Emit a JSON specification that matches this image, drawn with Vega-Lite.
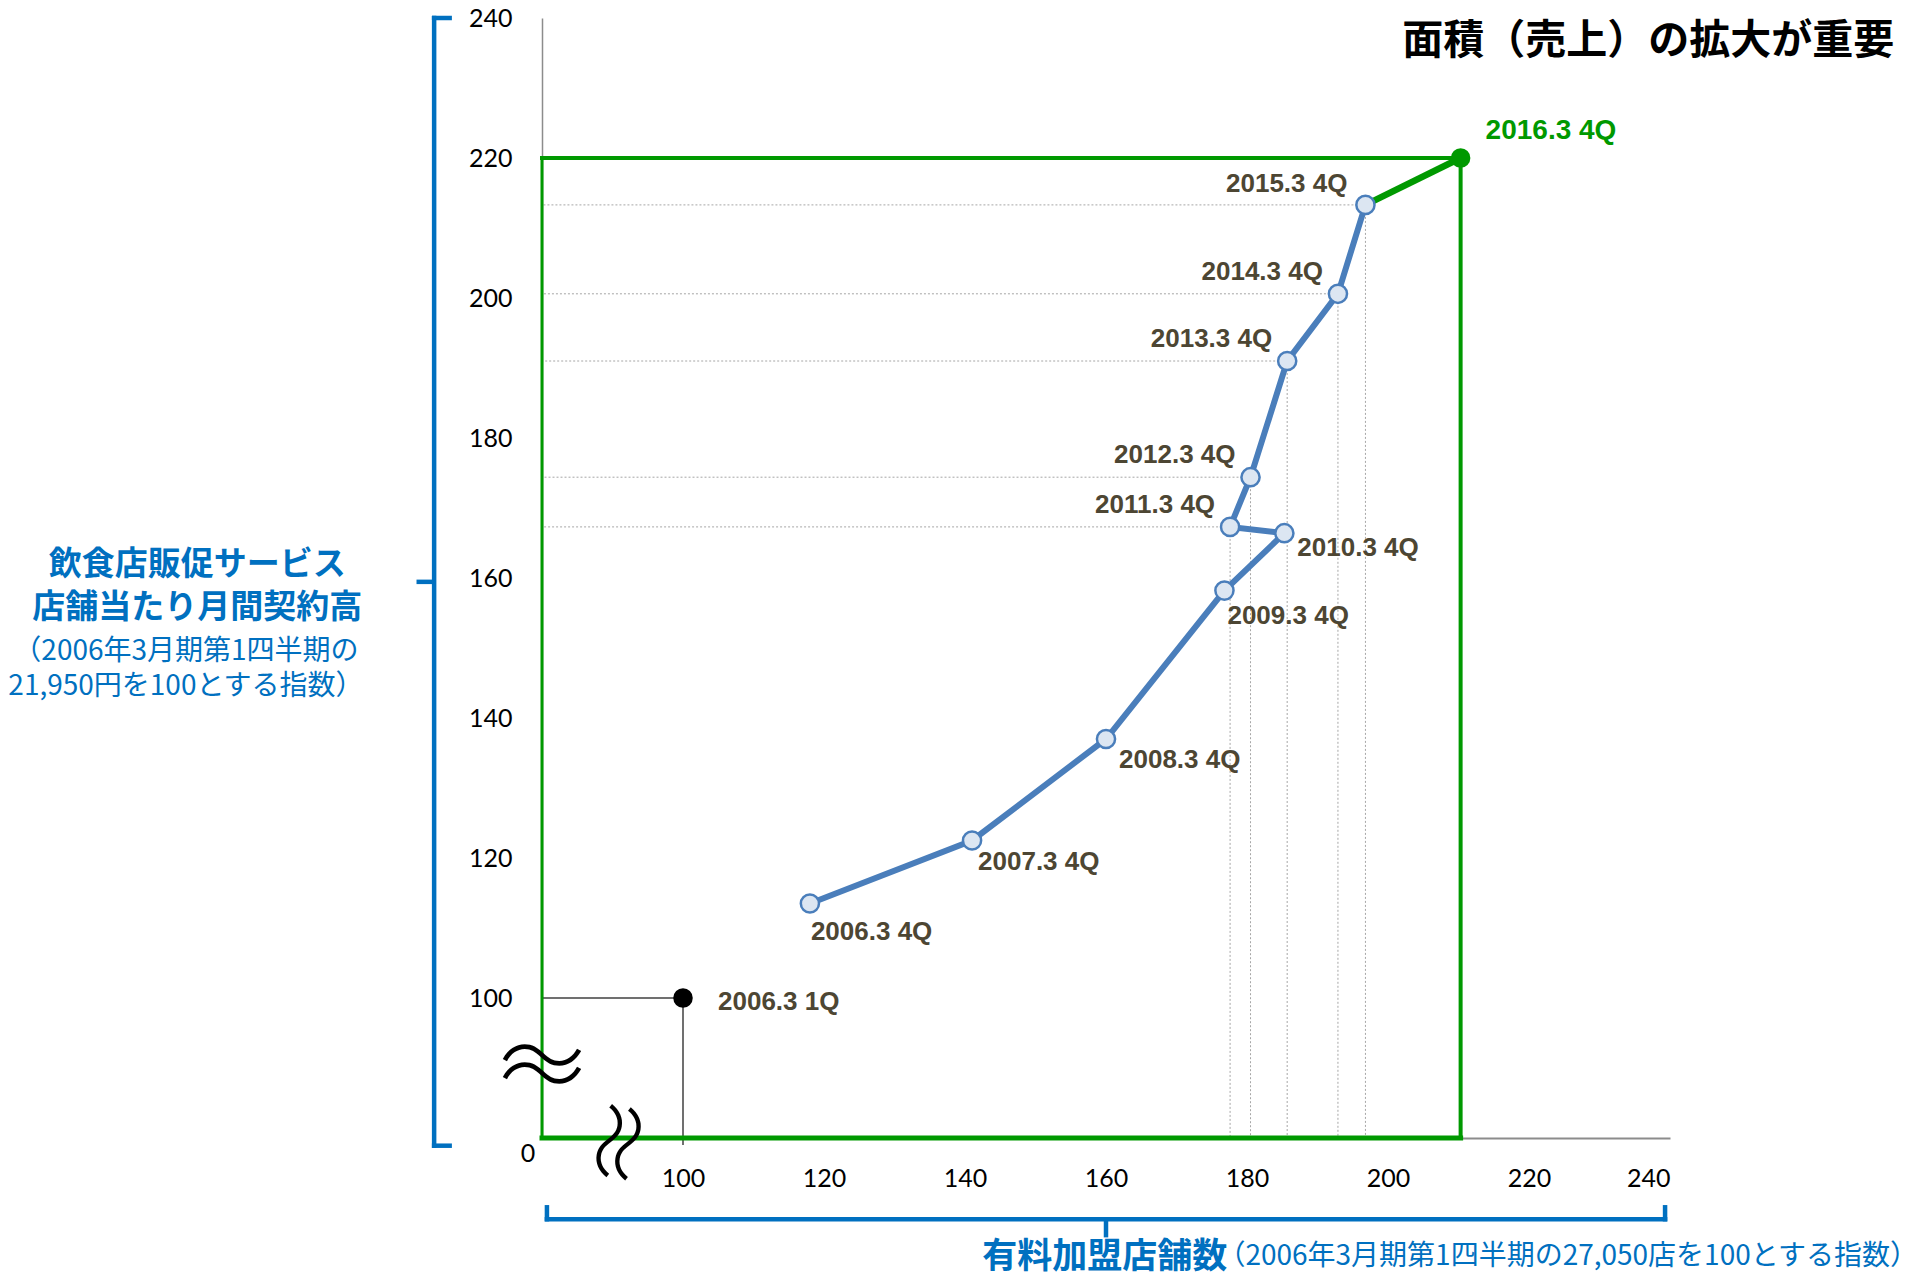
{
  "$schema": "https://vega.github.io/schema/vega-lite/v6.json",
  "width": 1128,
  "height": 1120,
  "autosize": {"type": "none"},
  "padding": {"left": 542, "top": 18, "right": 241, "bottom": 142},
  "background": "white",
  "config": {
    "view": {"stroke": null},
    "axis": {"grid": false, "ticks": false, "labelFont": "Lato", "labelFontSize": 25, "labelColor": "#000000", "domainColor": "#8c8c8c"}
  },
  "data": {
    "values": [
      {"label": "2006.3 1Q", "seq": 0, "kind": "start", "x": 100, "y": 100},
      {"label": "2006.3 4Q", "seq": 1, "kind": "hist", "x": 118, "y": 113.5},
      {"label": "2007.3 4Q", "seq": 2, "kind": "hist", "x": 141, "y": 122.5},
      {"label": "2008.3 4Q", "seq": 3, "kind": "hist", "x": 160, "y": 137},
      {"label": "2009.3 4Q", "seq": 4, "kind": "hist", "x": 176.8, "y": 158.2},
      {"label": "2010.3 4Q", "seq": 5, "kind": "hist", "x": 185.3, "y": 166.4},
      {"label": "2011.3 4Q", "seq": 6, "kind": "hist", "x": 177.6, "y": 167.3},
      {"label": "2012.3 4Q", "seq": 7, "kind": "hist", "x": 180.5, "y": 174.4},
      {"label": "2013.3 4Q", "seq": 8, "kind": "hist", "x": 185.7, "y": 191},
      {"label": "2014.3 4Q", "seq": 9, "kind": "hist", "x": 192.9, "y": 200.6},
      {"label": "2015.3 4Q", "seq": 10, "kind": "hist", "x": 196.8, "y": 213.3},
      {"label": "2016.3 4Q", "seq": 11, "kind": "latest", "x": 210.3, "y": 220}
    ]
  },
  "layer": [
    {
      "transform": [{"filter": "datum.seq >= 6 && datum.seq <= 10"}],
      "mark": {"type": "rule", "color": "#a6a6a6", "strokeWidth": 1, "strokeDash": [2, 2]},
      "encoding": {
        "x": {"field": "x", "type": "quantitative", "scale": {"domain": [80, 240], "nice": false, "zero": false},
              "axis": {"title": null, "values": [100, 120, 140, 160, 180, 200, 220, 240], "labelPadding": 28, "domainWidth": 2}},
        "x2": {"datum": 80},
        "y": {"field": "y", "type": "quantitative", "scale": {"domain": [80, 240], "nice": false, "zero": false},
              "axis": {"title": null, "values": [100, 120, 140, 160, 180, 200, 220, 240], "labelPadding": 30, "domainWidth": 1.5}}
      }
    },
    {
      "transform": [{"filter": "datum.seq >= 6 && datum.seq <= 10"}],
      "mark": {"type": "rule", "color": "#a6a6a6", "strokeWidth": 1, "strokeDash": [2, 2]},
      "encoding": {
        "x": {"field": "x", "type": "quantitative"},
        "y": {"field": "y", "type": "quantitative"},
        "y2": {"datum": 80}
      }
    },
    {
      "transform": [{"filter": "datum.kind == 'start'"}],
      "mark": {"type": "rule", "color": "#404040", "strokeWidth": 1.5},
      "encoding": {
        "x": {"field": "x", "type": "quantitative"},
        "x2": {"datum": 80},
        "y": {"field": "y", "type": "quantitative"}
      }
    },
    {
      "transform": [{"filter": "datum.kind == 'start'"}],
      "mark": {"type": "rule", "color": "#404040", "strokeWidth": 1.5},
      "encoding": {
        "x": {"field": "x", "type": "quantitative"},
        "y": {"field": "y", "type": "quantitative"},
        "y2": {"datum": 79}
      }
    },
    {
      "transform": [{"filter": "datum.kind == 'latest'"}],
      "mark": {"type": "rule", "color": "#009900", "strokeWidth": 4, "strokeCap": "square"},
      "encoding": {
        "x": {"field": "x", "type": "quantitative"},
        "x2": {"datum": 80},
        "y": {"field": "y", "type": "quantitative"}
      }
    },
    {
      "transform": [{"filter": "datum.kind == 'latest'"}],
      "mark": {"type": "rule", "color": "#009900", "strokeWidth": 4, "strokeCap": "square"},
      "encoding": {
        "x": {"field": "x", "type": "quantitative"},
        "y": {"field": "y", "type": "quantitative"},
        "y2": {"datum": 80}
      }
    },
    {
      "transform": [{"filter": "datum.kind == 'latest'"}],
      "mark": {"type": "rule", "color": "#009900", "strokeWidth": 3, "strokeCap": "square"},
      "encoding": {
        "x": {"datum": 80, "type": "quantitative"},
        "y": {"field": "y", "type": "quantitative"},
        "y2": {"datum": 80}
      }
    },
    {
      "transform": [{"filter": "datum.kind == 'latest'"}],
      "mark": {"type": "rule", "color": "#009900", "strokeWidth": 5, "strokeCap": "square"},
      "encoding": {
        "x": {"field": "x", "type": "quantitative"},
        "x2": {"datum": 80},
        "y": {"datum": 80, "type": "quantitative"}
      }
    },
    {
      "transform": [{"filter": "datum.kind == 'hist'"}],
      "mark": {"type": "line", "color": "#4a7ebb", "strokeWidth": 6},
      "encoding": {
        "x": {"field": "x", "type": "quantitative"},
        "y": {"field": "y", "type": "quantitative"},
        "order": {"field": "seq", "type": "quantitative"}
      }
    },
    {
      "transform": [{"filter": "datum.seq >= 10"}],
      "mark": {"type": "line", "color": "#009900", "strokeWidth": 6.5},
      "encoding": {
        "x": {"field": "x", "type": "quantitative"},
        "y": {"field": "y", "type": "quantitative"},
        "order": {"field": "seq", "type": "quantitative"}
      }
    },
    {
      "transform": [{"filter": "datum.kind == 'hist'"}],
      "mark": {"type": "point", "shape": "circle", "filled": true, "fill": "#dce6f2", "stroke": "#4a7ebb", "strokeWidth": 2.5, "size": 330, "opacity": 1},
      "encoding": {
        "x": {"field": "x", "type": "quantitative"},
        "y": {"field": "y", "type": "quantitative"}
      }
    },
    {
      "transform": [{"filter": "datum.kind == 'latest'"}],
      "mark": {"type": "point", "shape": "circle", "filled": true, "color": "#009900", "size": 380, "opacity": 1},
      "encoding": {
        "x": {"field": "x", "type": "quantitative"},
        "y": {"field": "y", "type": "quantitative"}
      }
    },
    {
      "transform": [{"filter": "datum.kind == 'start'"}],
      "mark": {"type": "point", "shape": "circle", "filled": true, "color": "#000000", "size": 380, "opacity": 1},
      "encoding": {
        "x": {"field": "x", "type": "quantitative"},
        "y": {"field": "y", "type": "quantitative"}
      }
    },
    {
      "transform": [{"filter": {"field": "label", "oneOf": ["2006.3 1Q"]}}],
      "mark": {"type": "text", "font": "Liberation Sans", "fontWeight": "bold", "fontSize": 26, "color": "#4d4633", "align": "left", "baseline": "middle", "dx": 35, "dy": 4},
      "encoding": {"x": {"field": "x", "type": "quantitative"}, "y": {"field": "y", "type": "quantitative"}, "text": {"field": "label"}}
    },
    {
      "transform": [{"filter": {"field": "label", "oneOf": ["2006.3 4Q"]}}],
      "mark": {"type": "text", "font": "Liberation Sans", "fontWeight": "bold", "fontSize": 26, "color": "#4d4633", "align": "left", "baseline": "middle", "dx": 1, "dy": 28},
      "encoding": {"x": {"field": "x", "type": "quantitative"}, "y": {"field": "y", "type": "quantitative"}, "text": {"field": "label"}}
    },
    {
      "transform": [{"filter": {"field": "label", "oneOf": ["2007.3 4Q"]}}],
      "mark": {"type": "text", "font": "Liberation Sans", "fontWeight": "bold", "fontSize": 26, "color": "#4d4633", "align": "left", "baseline": "middle", "dx": 6, "dy": 21},
      "encoding": {"x": {"field": "x", "type": "quantitative"}, "y": {"field": "y", "type": "quantitative"}, "text": {"field": "label"}}
    },
    {
      "transform": [{"filter": {"field": "label", "oneOf": ["2008.3 4Q"]}}],
      "mark": {"type": "text", "font": "Liberation Sans", "fontWeight": "bold", "fontSize": 26, "color": "#4d4633", "align": "left", "baseline": "middle", "dx": 13, "dy": 21},
      "encoding": {"x": {"field": "x", "type": "quantitative"}, "y": {"field": "y", "type": "quantitative"}, "text": {"field": "label"}}
    },
    {
      "transform": [{"filter": {"field": "label", "oneOf": ["2009.3 4Q"]}}],
      "mark": {"type": "text", "font": "Liberation Sans", "fontWeight": "bold", "fontSize": 26, "color": "#4d4633", "align": "left", "baseline": "middle", "dx": 3, "dy": 25},
      "encoding": {"x": {"field": "x", "type": "quantitative"}, "y": {"field": "y", "type": "quantitative"}, "text": {"field": "label"}}
    },
    {
      "transform": [{"filter": {"field": "label", "oneOf": ["2010.3 4Q"]}}],
      "mark": {"type": "text", "font": "Liberation Sans", "fontWeight": "bold", "fontSize": 26, "color": "#4d4633", "align": "left", "baseline": "middle", "dx": 13, "dy": 15},
      "encoding": {"x": {"field": "x", "type": "quantitative"}, "y": {"field": "y", "type": "quantitative"}, "text": {"field": "label"}}
    },
    {
      "transform": [{"filter": {"field": "label", "oneOf": ["2011.3 4Q", "2012.3 4Q", "2013.3 4Q", "2014.3 4Q"]}}],
      "mark": {"type": "text", "font": "Liberation Sans", "fontWeight": "bold", "fontSize": 26, "color": "#4d4633", "align": "right", "baseline": "middle", "dx": -15, "dy": -22},
      "encoding": {"x": {"field": "x", "type": "quantitative"}, "y": {"field": "y", "type": "quantitative"}, "text": {"field": "label"}}
    },
    {
      "transform": [{"filter": {"field": "label", "oneOf": ["2015.3 4Q"]}}],
      "mark": {"type": "text", "font": "Liberation Sans", "fontWeight": "bold", "fontSize": 26, "color": "#4d4633", "align": "right", "baseline": "middle", "dx": -18, "dy": -21},
      "encoding": {"x": {"field": "x", "type": "quantitative"}, "y": {"field": "y", "type": "quantitative"}, "text": {"field": "label"}}
    },
    {
      "transform": [{"filter": {"field": "label", "oneOf": ["2016.3 4Q"]}}],
      "mark": {"type": "text", "font": "Liberation Sans", "fontWeight": "bold", "fontSize": 28, "color": "#009900", "align": "left", "baseline": "middle", "dx": 25, "dy": -27},
      "encoding": {"x": {"field": "x", "type": "quantitative"}, "y": {"field": "y", "type": "quantitative"}, "text": {"field": "label"}}
    },
    {
      "data": {"values": [{}]},
      "mark": {"type": "text", "text": "0", "font": "Lato", "fontSize": 25, "color": "#000000", "align": "center", "baseline": "middle", "dx": -14, "dy": 16},
      "encoding": {"x": {"datum": 80, "type": "quantitative"}, "y": {"datum": 80, "type": "quantitative"}}
    },
    {
      "data": {"values": [{}]},
      "mark": {"type": "text", "text": ["〜", "〜"], "lineHeight": 18, "font": "Noto Sans CJK JP", "fontWeight": 300, "fontSize": 86, "color": "#000000", "align": "center", "baseline": "middle"},
      "encoding": {"x": {"datum": 80, "type": "quantitative"}, "y": {"datum": 90.8, "type": "quantitative"}}
    },
    {
      "data": {"values": [{}]},
      "mark": {"type": "text", "text": ["〜", "〜"], "lineHeight": 19, "font": "Noto Sans CJK JP", "fontWeight": 300, "fontSize": 80, "color": "#000000", "align": "center", "baseline": "middle", "angle": 100},
      "encoding": {"x": {"datum": 91.3, "type": "quantitative"}, "y": {"datum": 79.3, "type": "quantitative"}}
    },
    {
      "data": {"values": [{}]},
      "mark": {"type": "rule", "color": "#0070c0", "strokeWidth": 4.5, "strokeCap": "square"},
      "encoding": {"x": {"datum": 64.7, "type": "quantitative"}, "y": {"datum": 78.9, "type": "quantitative"}, "y2": {"datum": 240}}
    },
    {
      "data": {"values": [{}]},
      "mark": {"type": "rule", "color": "#0070c0", "strokeWidth": 4.5, "strokeCap": "square"},
      "encoding": {"x": {"datum": 64.7, "type": "quantitative"}, "x2": {"datum": 66.9}, "y": {"datum": 240, "type": "quantitative"}}
    },
    {
      "data": {"values": [{}]},
      "mark": {"type": "rule", "color": "#0070c0", "strokeWidth": 4.5, "strokeCap": "square"},
      "encoding": {"x": {"datum": 64.7, "type": "quantitative"}, "x2": {"datum": 66.9}, "y": {"datum": 78.9, "type": "quantitative"}}
    },
    {
      "data": {"values": [{}]},
      "mark": {"type": "rule", "color": "#0070c0", "strokeWidth": 4.5},
      "encoding": {"x": {"datum": 62.2, "type": "quantitative"}, "x2": {"datum": 64.7}, "y": {"datum": 159.45, "type": "quantitative"}}
    },
    {
      "data": {"values": [{}]},
      "mark": {"type": "rule", "color": "#0070c0", "strokeWidth": 4.5, "strokeCap": "square"},
      "encoding": {"x": {"datum": 80.7, "type": "quantitative"}, "x2": {"datum": 239.3}, "y": {"datum": 68.4, "type": "quantitative"}}
    },
    {
      "data": {"values": [{}]},
      "mark": {"type": "rule", "color": "#0070c0", "strokeWidth": 4.5, "strokeCap": "square"},
      "encoding": {"x": {"datum": 80.7, "type": "quantitative"}, "y": {"datum": 68.4, "type": "quantitative"}, "y2": {"datum": 70.1}}
    },
    {
      "data": {"values": [{}]},
      "mark": {"type": "rule", "color": "#0070c0", "strokeWidth": 4.5, "strokeCap": "square"},
      "encoding": {"x": {"datum": 239.3, "type": "quantitative"}, "y": {"datum": 68.4, "type": "quantitative"}, "y2": {"datum": 70.1}}
    },
    {
      "data": {"values": [{}]},
      "mark": {"type": "rule", "color": "#0070c0", "strokeWidth": 4.5},
      "encoding": {"x": {"datum": 160, "type": "quantitative"}, "y": {"datum": 65.8, "type": "quantitative"}, "y2": {"datum": 68.4}}
    },
    {
      "data": {"values": [{}]},
      "mark": {"type": "text", "text": "面積（売上）の拡大が重要", "font": "Noto Sans CJK JP", "fontWeight": "bold", "fontSize": 41, "color": "#000000", "align": "right", "baseline": "middle"},
      "encoding": {"x": {"datum": 271.8, "type": "quantitative"}, "y": {"datum": 236.6, "type": "quantitative"}}
    },
    {
      "data": {"values": [{}]},
      "mark": {"type": "text", "text": ["飲食店販促サービス", "店舗当たり月間契約高"], "lineHeight": 43, "font": "Noto Sans CJK JP", "fontWeight": "bold", "fontSize": 33, "color": "#0070c0", "align": "center", "baseline": "middle"},
      "encoding": {"x": {"datum": 31.1, "type": "quantitative"}, "y": {"datum": 161.9, "type": "quantitative"}}
    },
    {
      "data": {"values": [{}]},
      "mark": {"type": "text", "text": ["（2006年3月期第1四半期の", "21,950円を100とする指数）"], "lineHeight": 35, "font": "Noto Sans CJK JP", "fontSize": 28, "color": "#0070c0", "align": "center", "baseline": "middle"},
      "encoding": {"x": {"datum": 29.5, "type": "quantitative"}, "y": {"datum": 149.5, "type": "quantitative"}}
    },
    {
      "data": {"values": [{}]},
      "mark": {"type": "text", "text": "有料加盟店舗数", "font": "Noto Sans CJK JP", "fontWeight": "bold", "fontSize": 35, "color": "#0070c0", "align": "right", "baseline": "middle"},
      "encoding": {"x": {"datum": 177.2, "type": "quantitative"}, "y": {"datum": 63.0, "type": "quantitative"}}
    },
    {
      "data": {"values": [{}]},
      "mark": {"type": "text", "text": "（2006年3月期第1四半期の27,050店を100とする指数）", "font": "Noto Sans CJK JP", "fontSize": 28, "color": "#0070c0", "align": "left", "baseline": "middle"},
      "encoding": {"x": {"datum": 175.8, "type": "quantitative"}, "y": {"datum": 63.0, "type": "quantitative"}}
    }
  ]
}
